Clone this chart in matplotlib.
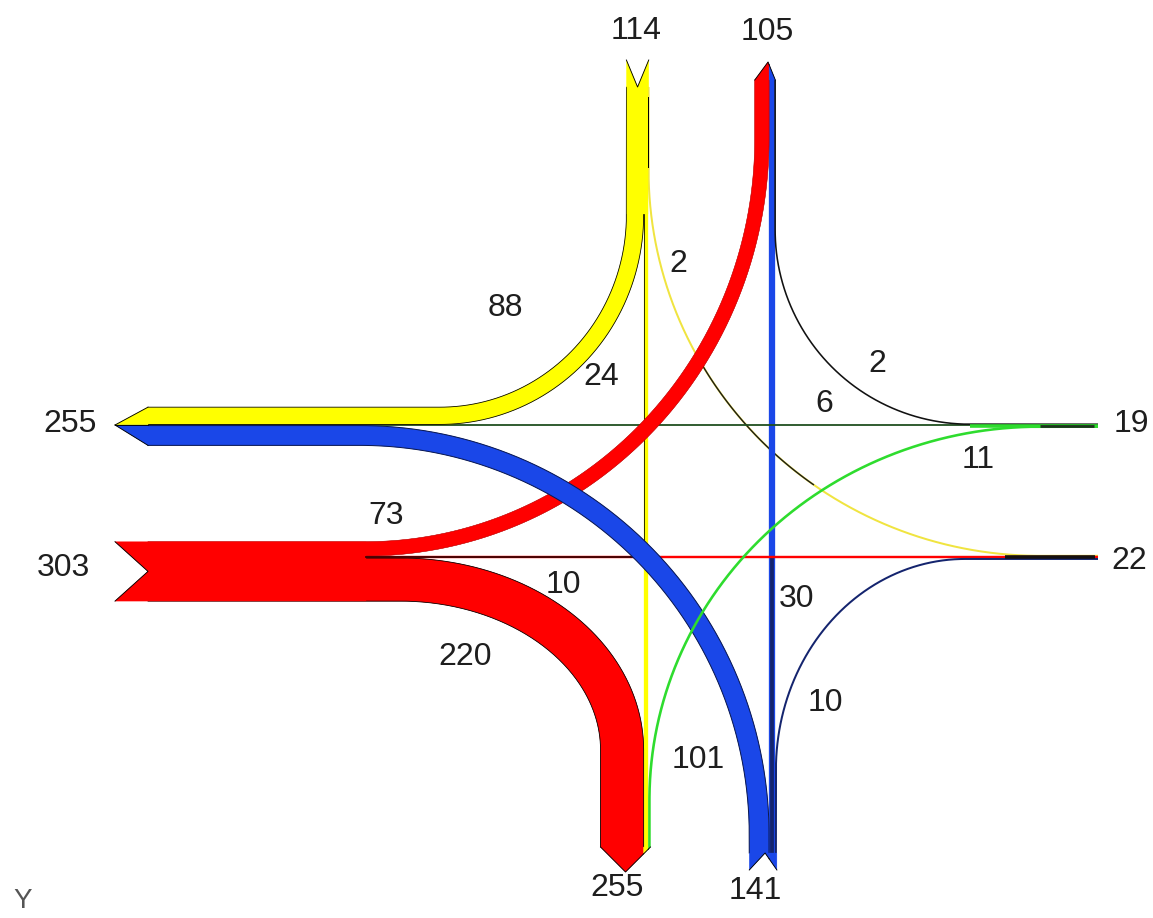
import numpy as np
import matplotlib
matplotlib.use('Agg')
import matplotlib.pyplot as plt
from matplotlib.patches import Polygon

# ---------------- data ----------------
movement_names = ['N-W', 'N-S', 'N-E', 'W-N', 'W-E', 'W-S',
                  'S-W', 'S-N', 'S-E', 'E-S', 'E-W', 'E-N']
movement_volumes = [88, 24, 2, 73, 10, 220, 101, 30, 10, 11, 6, 2]
approach_names = ['W out', 'W in', 'N in', 'N out', 'S out', 'S in', 'E in', 'E out']
approach_totals = [255, 303, 114, 105, 255, 141, 19, 22]

vol = dict(zip(movement_names, movement_volumes))
tot = dict(zip(approach_names, approach_totals))

# ---------------- styling / layout ----------------
W, H, DPI = 1153, 918, 100
PT = 72.0 / DPI
SCALE = 0.196
YELLOW, RED, BLUE, NAVY, GREEN = '#ffff00', '#ff0000', '#1a47e8', '#14246e', '#2edc2e'
TXT = '#1e1e1e'
FONT = 'Liberation Sans'

fig = plt.figure(figsize=(W / DPI, H / DPI), dpi=DPI)
ax = fig.add_axes([0, 0, 1, 1])
ax.set_xlim(0, W)
ax.set_ylim(H, 0)
ax.axis('off')


def wd(m):
    return vol[m] * SCALE


XA, XB, YC, YD = 646.0, 772.0, 425.0, 557.0
wA, wB, wC, wD = wd('N-S'), wd('S-N'), wd('E-W'), wd('W-E')


def before(ref, wref, w):
    return ref - wref / 2 - w / 2


def after(ref, wref, w):
    return ref + wref / 2 + w / 2


WB_, NIN, NOUT, SOUT, SIN, EEND = 148.0, 87.0, 80.0, 847.0, 853.0, 1098.0


def path(start, S, E, end, vertical_first, n=200):
    S, E = np.array(S, float), np.array(E, float)
    start, end = np.array(start, float), np.array(end, float)
    C = np.array([E[0], S[1]]) if vertical_first else np.array([S[0], E[1]])
    pts, tans = [], []
    d0 = S - start
    d0 = d0 / np.linalg.norm(d0)
    pts += [start]; tans += [d0]
    t = np.linspace(0, np.pi / 2, n)
    for ti in t:
        p = C + (S - C) * np.cos(ti) + (E - C) * np.sin(ti)
        d = -(S - C) * np.sin(ti) + (E - C) * np.cos(ti)
        pts.append(p); tans.append(d / np.linalg.norm(d))
    d1 = end - E
    d1 = d1 / np.linalg.norm(d1)
    pts += [end]; tans += [d1]
    return np.array(pts), np.array(tans)


def band(pts, tans, w, fc, ec='black', lw=0.8, z=2):
    nrm = np.column_stack([-tans[:, 1], tans[:, 0]])
    left = pts + nrm * w / 2
    right = pts - nrm * w / 2
    poly = np.vstack([left, right[::-1]])
    ax.add_patch(Polygon(poly, closed=True, facecolor=fc, edgecolor=fc,
                         linewidth=0.3 * PT, zorder=z))
    if ec != 'none':
        for side in (left, right):
            ax.plot(side[:, 0], side[:, 1], color=ec, lw=lw * PT, zorder=z)


def line(pts, color, wpx, z=2, mask=None):
    p = pts if mask is None else pts[mask]
    ax.plot(p[:, 0], p[:, 1], color=color, lw=wpx * PT, zorder=z, solid_capstyle='butt')


def straight(p0, p1):
    p0, p1 = np.array(p0, float), np.array(p1, float)
    d = (p1 - p0) / np.linalg.norm(p1 - p0)
    return np.array([p0, p1]), np.array([d, d])


def end_cap(axis, base, outward, strips, u_tip, L, kind, dividers=False, z=6):
    umin = min(s[0] for s in strips)
    umax = max(s[1] for s in strips)

    def ext(u):
        side = (u_tip - umin) if u < u_tip else (umax - u_tip)
        r = abs(u - u_tip) / side if side > 0 else 0
        return L * (1 - r) if kind == 'arrow' else L * r

    def xy(pts):
        return [(b, a) for a, b in pts] if axis == 'y' else pts

    for k, (u0, u1, col) in enumerate(strips):
        us = [u0] + ([u_tip] if u0 < u_tip < u1 else []) + [u1]
        prof = [(base + outward * ext(u), u) for u in us]
        poly = xy([(base, u0)] + prof + [(base, u1)])
        ax.add_patch(Polygon(poly, closed=True, facecolor=col, edgecolor=col,
                             linewidth=0.3 * PT, zorder=z))
        pr = np.array(xy(prof))
        ax.plot(pr[:, 0], pr[:, 1], color='black', lw=0.9 * PT, zorder=z + 0.1)
        if dividers and k < len(strips) - 1:
            dv = np.array(xy([(base, u1), (base + outward * ext(u1), u1)]))
            ax.plot(dv[:, 0], dv[:, 1], color='black', lw=0.9 * PT, zorder=z + 0.1)


def cover(x0, x1, y0, y1, col, z, edges=()):
    ax.add_patch(Polygon([(x0, y0), (x1, y0), (x1, y1), (x0, y1)], closed=True,
                         facecolor=col, edgecolor=col, linewidth=0.3 * PT, zorder=z))
    for e in edges:
        ax.plot(*e, color='black', lw=0.8 * PT, zorder=z)


# ---------------- lane centres ----------------
w88, w73, w220, w101 = wd('N-W'), wd('W-N'), wd('W-S'), wd('S-W')
wNE, wSE, wES, wEN = wd('N-E'), wd('S-E'), wd('E-S'), wd('E-N')

x_NW = before(XA, wA, w88);   y_NW = before(YC, wC, w88)
x_NE = after(XA, wA, wNE);    y_NE = before(YD, wD, wNE)
y_WN = before(YD, wD, w73);   x_WN = before(XB, wB, w73)
y_WS = after(YD, wD, w220);   x_WS = before(XA, wA, w220)
x_SW = before(XB, wB, w101);  y_SW = after(YC, wC, w101)
x_SE = after(XB, wB, wSE);    y_SE = after(YD, wD, wSE)
y_ES = after(YC, wC, wES);    x_ES = after(XA, wA, wES)
y_EN = before(YC, wC, wEN);   x_EN = after(XB, wB, wEN)

# ---------------- movements ----------------
# N-S yellow 24
p, t = straight((XA, NIN), (XA, SOUT))
band(p, t, wA, YELLOW, ec='none', z=1)
ax.plot([XA - wA / 2] * 2, [213, 556], color='#333300', lw=1.0 * PT, zorder=1)

# N-E yellow 2
pNE, tNE = path((x_NE, NIN), (x_NE, 170), (1040, y_NE), (EEND, y_NE), True)
line(pNE, '#f0e440', 2.0, z=1)
line(pNE, '#1a1a1a', 1.4, z=1, mask=(pNE[:, 0] > 700) & (pNE[:, 0] < 815))

# S-N blue 30
p, t = straight((XB, SIN), (XB, NOUT))
band(p, t, wB, BLUE, ec='none', z=1)
ax.plot([XB, XB], [558, SIN], color=NAVY, lw=3.8 * PT, zorder=1)

# E-W green 6
p, t = straight((EEND, YC), (WB_, YC))
line(p, '#1f4f1f', 1.8, z=1)

# W-E red 10
p, t = straight((WB_, YD), (EEND, YD))
line(p, RED, 2.4, z=1)

# W-N red 73
p, t = path((WB_, y_WN), (365, y_WN), (x_WN, 139), (x_WN, NOUT), False)
band(p, t, w73, RED, ec='#b00000', lw=0.5, z=2)

# N-W yellow 88
p, t = path((x_NW, NIN), (x_NW, 215), (440, y_NW), (WB_, y_NW), True)
band(p, t, w88, YELLOW, z=3)

# W-S red 220
p, t = path((WB_, y_WS), (400, y_WS), (x_WS, 750), (x_WS, SOUT), False)
band(p, t, w220, RED, z=3)

# merged approach sections (no internal lines)
w_top, w_bot = y_WN - w73 / 2, y_WS + w220 / 2
cover(WB_, 366, w_top + 0.4, w_bot - 0.4, RED, 3.5)
ax.plot([366, 640], [YD, YD], color='#3a0505', lw=1.8 * PT, zorder=3.6)
n0, n1 = x_NW - w88 / 2, x_NE + wNE / 2
cover(n0 + 0.4, n1 - 0.3, NIN, 214, YELLOW, 3.5)
ax.plot([XA + wA / 2] * 2, [97, 167], color='black', lw=1.0 * PT, zorder=3.6)

# S-W blue 101
p, t = path((x_SW, SIN), (x_SW, 835), (360, y_SW), (WB_, y_SW), True)
band(p, t, w101, BLUE, ec='#0a1850', lw=1.0, z=4)

# E-S green 11
p, t = path((EEND, y_ES), (1040, y_ES), (x_ES, 800), (x_ES, SOUT), False)
line(p, GREEN, 2.6, z=5)

# S-E navy 10
p, t = path((x_SE, SIN), (x_SE, 770), (965, y_SE), (EEND, y_SE), True)
line(p, NAVY, 2.0, z=5)

# E-N black 2
p, t = path((EEND, y_EN), (970, y_EN), (x_EN, 230), (x_EN, NOUT), False)
line(p, '#111111', 1.6, z=5)

# approach legs on the east side
ax.plot([970, EEND], [YC + 0.5, YC + 0.5], color=GREEN, lw=3.6 * PT, zorder=5, solid_capstyle='butt')
ax.plot([1040, EEND - 4], [YC + 0.5, YC + 0.5], color='#1c331c', lw=2.8 * PT, zorder=5, solid_capstyle='butt')
ax.plot([1005, EEND - 3], [YD, YD], color='#151010', lw=3.6 * PT, zorder=5, solid_capstyle='butt')

# ---------------- arrow heads / tails ----------------
end_cap('x', WB_, -1, [(y_NW - w88 / 2, YC, YELLOW), (YC, y_SW + w101 / 2, BLUE)],
        YC, 33, 'arrow', dividers=True)
end_cap('x', WB_, -1, [(w_top, w_bot, RED)], (w_top + w_bot) / 2, 33, 'notch')
end_cap('y', NIN, -1, [(n0, n1, YELLOW)], (n0 + n1) / 2, 27, 'notch')
o0, o1 = x_WN - w73 / 2, x_EN + wEN / 2
end_cap('y', NOUT, -1, [(o0, XB - wB / 2, RED), (XB - wB / 2, o1, BLUE)],
        (o0 + o1) / 2 + 3, 18, 'arrow')
s0, s1 = x_WS - w220 / 2, x_ES + wES / 2
end_cap('y', SOUT, 1, [(s0, XA - wA / 2, RED), (XA - wA / 2, XA + wA / 2, YELLOW),
                       (XA + wA / 2, s1, GREEN)], (s0 + s1) / 2, 25, 'arrow')
i0, i1 = x_SW - w101 / 2, x_SE + wSE / 2
end_cap('y', SIN, 1, [(i0, XB - wB / 2, BLUE), (XB - wB / 2, i1, BLUE)],
        (i0 + i1) / 2 + 2, 17, 'notch')

# ---------------- labels ----------------
approach_pos = {'W out': (70, 424), 'W in': (63, 568), 'N in': (636, 31), 'N out': (767, 32),
                'S out': (617, 888), 'S in': (755, 891), 'E in': (1131, 424), 'E out': (1129, 561)}
for name in approach_names:
    x, y = approach_pos[name]
    ax.text(x, y, str(tot[name]), fontsize=23, family=FONT, color=TXT,
            ha='center', va='center', zorder=10)

movement_pos = {'N-W': (505, 308), 'N-S': (601, 377), 'N-E': (678, 264), 'W-N': (386, 516),
                'W-E': (563, 585), 'W-S': (465, 657), 'S-W': (698, 760), 'S-N': (797, 599),
                'S-E': (825, 703), 'E-S': (978, 460), 'E-W': (824, 404), 'E-N': (877, 364)}
for name in movement_names:
    x, y = movement_pos[name]
    ax.text(x, y, str(vol[name]), fontsize=23, family=FONT, color=TXT,
            ha='center', va='center', zorder=10)

ax.text(23, 908, 'Y', fontsize=20, family=FONT, color='#555555',
        ha='center', va='baseline', zorder=10)

fig.savefig('out.png', dpi=DPI)
